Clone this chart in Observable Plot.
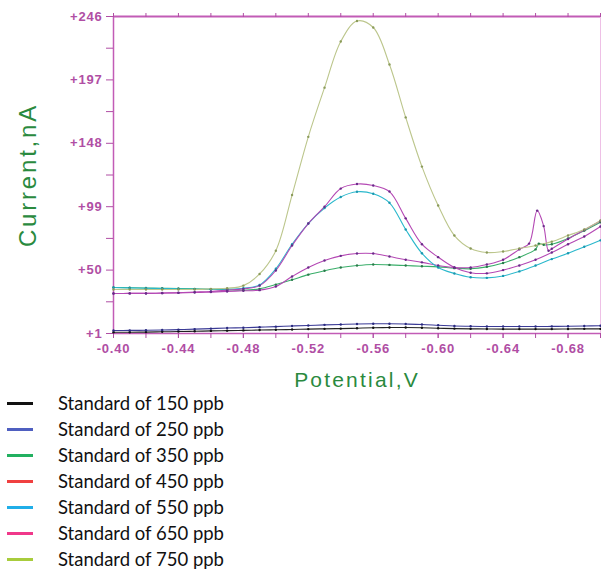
<!DOCTYPE html>
<html><head><meta charset="utf-8">
<script src="https://cdn.jsdelivr.net/npm/d3@7"></script>
<script src="https://cdn.jsdelivr.net/npm/@observablehq/plot@0.6"></script>
<style>
body{margin:0;background:#fff;}
#chart{width:601px;height:390px;}
#legend{font-family:Lato,"Open Sans",sans-serif;font-size:18.5px;color:#111;}
.row{display:flex;align-items:center;height:26px;}
.sw{width:26px;height:3px;margin-left:7px;margin-right:25px;}
</style></head><body>
<div id="chart"></div>
<div id="legend"></div>
<script>
// ---- data ----
const potentials = [-0.40,-0.41,-0.42,-0.43,-0.44,-0.45,-0.46,-0.47,-0.48,-0.49,-0.50,-0.51,-0.52,-0.53,-0.54,-0.55,-0.56,-0.57,-0.58,-0.59,-0.60,-0.61,-0.62,-0.63,-0.64,-0.65,-0.66,-0.67,-0.68,-0.69,-0.70];
const potentials350 = [-0.40,-0.41,-0.42,-0.43,-0.44,-0.45,-0.46,-0.47,-0.48,-0.49,-0.50,-0.51,-0.52,-0.53,-0.54,-0.55,-0.56,-0.57,-0.58,-0.59,-0.60,-0.61,-0.62,-0.63,-0.64,-0.65,-0.66,-0.662,-0.665,-0.67,-0.68,-0.69,-0.70];
const potentials450 = [-0.40,-0.41,-0.42,-0.43,-0.44,-0.45,-0.46,-0.47,-0.48,-0.49,-0.50,-0.51,-0.52,-0.53,-0.54,-0.55,-0.56,-0.57,-0.58,-0.59,-0.60,-0.61,-0.62,-0.63,-0.64,-0.65,-0.656,-0.661,-0.665,-0.668,-0.67,-0.68,-0.69,-0.70];

const current150 = [2.0,2.0,2.1,2.3,2.5,2.7,3.0,3.2,3.4,3.7,3.9,4.1,4.4,4.6,4.8,5.1,5.4,5.6,5.6,5.4,5.1,4.8,4.6,4.5,4.4,4.4,4.4,4.4,4.5,4.6,4.6];
const current250 = [3.3,3.4,3.5,3.7,4.0,4.4,4.8,5.2,5.5,5.9,6.3,6.8,7.2,7.7,8.0,8.3,8.5,8.5,8.3,8.0,7.4,6.8,6.6,6.4,6.4,6.4,6.4,6.5,6.6,6.8,7.0];
const current350 = [36.5,36.4,36.2,36.0,35.8,35.5,35.2,34.8,34.4,35.5,38.8,42.5,46.5,49.5,52.0,53.5,54.3,54.0,53.5,53.0,52.5,51.5,51.0,52.5,55.5,60.0,66.0,70.5,69.5,70.0,74.5,80.5,87.0];
const current450 = [31.9,32.0,32.0,32.2,32.4,32.7,33.0,33.5,34.0,34.5,37.3,45.0,52.0,57.4,61.0,62.8,62.8,60.5,58.0,56.0,53.5,52.0,52.0,54.3,58.0,66.0,70.5,96.0,84.0,65.0,66.5,74.0,81.0,88.0];
const current550 = [36.5,36.3,36.0,35.8,35.5,35.3,35.2,35.3,36.0,38.5,51.0,70.0,86.0,98.0,106.5,110.5,109.0,102.0,81.4,63.0,52.0,47.4,44.5,44.0,45.5,49.0,53.5,58.5,63.0,68.0,73.0];
const current650 = [31.9,32.0,32.0,32.3,32.5,33.0,33.5,34.5,35.5,38.0,49.7,69.0,86.0,99.0,113.0,116.5,115.4,110.7,90.0,70.0,60.0,52.0,48.0,47.5,50.0,53.6,58.0,63.6,70.0,76.0,83.7];
const current750 = [35.0,35.0,35.0,35.0,35.0,35.0,35.5,36.0,38.0,47.0,65.0,108.0,153.0,191.0,226.7,242.5,237.5,208.9,168.0,130.0,99.9,76.7,66.7,63.6,64.4,66.7,69.0,72.0,76.7,81.4,88.3];

const seriesNames = ["Standard of 150 ppb","Standard of 250 ppb","Standard of 350 ppb","Standard of 450 ppb","Standard of 550 ppb","Standard of 650 ppb","Standard of 750 ppb"];
const legendColors = ["#111111","#4f5fc0","#22b060","#f04040","#20aee8","#f0388a","#a8cc3c"];
const lineColors = ["#222222","#3a3a96","#3aae6a","#b448b4","#2ab8cc","#b448b4","#bcc68c"];
const dotColors = ["#111111","#2a2a80","#2a7a4a","#6a2a8a","#1a98b0","#6a2a8a","#8a9a5a"];

const xTicks = [-0.40,-0.44,-0.48,-0.52,-0.56,-0.60,-0.64,-0.68];
const yTicks = [1,50,99,148,197,246];
const yTitle = "Current,nA";
const xTitle = "Potential,V";

// ---- build ----
const xsBySeries = [potentials, potentials, potentials350, potentials450, potentials, potentials, potentials];
const ysBySeries = [current150, current250, current350, current450, current550, current650, current750];
const rows = [];
seriesNames.forEach((name, s) => {
  xsBySeries[s].forEach((x, i) => rows.push({series: s, potential: x, current: ysBySeries[s][i]}));
});
const xMinor = d3.range(0, 16).map(i => -0.40 - i * 0.02);
const yMinor = d3.range(0, 5).map(i => (yTicks[i] + yTicks[i+1]) / 2);

const axisColor = "#c25cb6";
const labelColor = "#b04ea4";
const titleColor = "#2a8a3e";
const font = "'Liberation Sans', Arial, sans-serif";

const chart = Plot.plot({
  width: 601,
  height: 390,
  marginLeft: 113,
  marginRight: 1,
  marginTop: 16,
  marginBottom: 57,
  style: {fontFamily: font, fontSize: "13px", fontWeight: "bold", letterSpacing: "0.8px", color: labelColor, background: "#fff"},
  x: {domain: [-0.40, -0.70], label: null},
  y: {domain: [1, 246], label: null},
  marks: [
    Plot.ruleX([-0.70], {stroke: "#eec0e6", strokeWidth: 1}),
    Plot.ruleY([246], {stroke: axisColor, strokeWidth: 2}),
    Plot.ruleY([1], {stroke: axisColor, strokeWidth: 1.5}),
    Plot.ruleX([-0.40], {stroke: axisColor, strokeWidth: 1.5}),
    Plot.axisX({anchor: "top", ticks: xMinor, tickSize: 4, tickFormat: () => "", label: null}),
    Plot.axisX({anchor: "bottom", ticks: xMinor, tickSize: 5, tickFormat: () => "", label: null}),
    Plot.axisX({anchor: "bottom", ticks: xTicks, tickSize: 5, tickPadding: 5, fontSize: 13, fontFamily: font, fontWeight: "bold", tickFormat: d => d.toFixed(2), label: null}),
    Plot.axisY({anchor: "left", ticks: yMinor, tickSize: 7, tickFormat: () => "", label: null}),
    Plot.axisY({anchor: "left", ticks: yTicks, tickSize: 7, tickPadding: 4, fontSize: 13, fontFamily: font, fontWeight: "bold", tickFormat: d => "+" + d, label: null}),
    Plot.line(rows, {x: "potential", y: "current", z: "series", stroke: d => lineColors[d.series], strokeWidth: 1.1, curve: "catmull-rom"}),
    Plot.dot(rows, {x: "potential", y: "current", r: 1.2, fill: d => dotColors[d.series], stroke: null}),
    Plot.text([yTitle], {frameAnchor: "left", textAnchor: "middle", dx: -85, rotate: -90, fill: titleColor, fontSize: 24, fontFamily: font, fontWeight: "normal", text: d => d}),
    Plot.text([xTitle], {frameAnchor: "bottom", textAnchor: "middle", dy: 53, fill: titleColor, fontSize: 21, fontFamily: font, fontWeight: "normal", text: d => d})
  ]
});
chart.querySelectorAll("text").forEach(t => {
  if (t.textContent === yTitle) t.style.letterSpacing = "2.8px";
  if (t.textContent === xTitle) t.style.letterSpacing = "2.2px";
});
document.getElementById("chart").appendChild(chart);

const legend = document.getElementById("legend");
seriesNames.forEach((name, i) => {
  const row = document.createElement("div");
  row.className = "row";
  const sw = document.createElement("div");
  sw.className = "sw";
  sw.style.background = legendColors[i];
  const t = document.createElement("span");
  t.textContent = name;
  row.appendChild(sw);
  row.appendChild(t);
  legend.appendChild(row);
});
</script>
</body></html>
